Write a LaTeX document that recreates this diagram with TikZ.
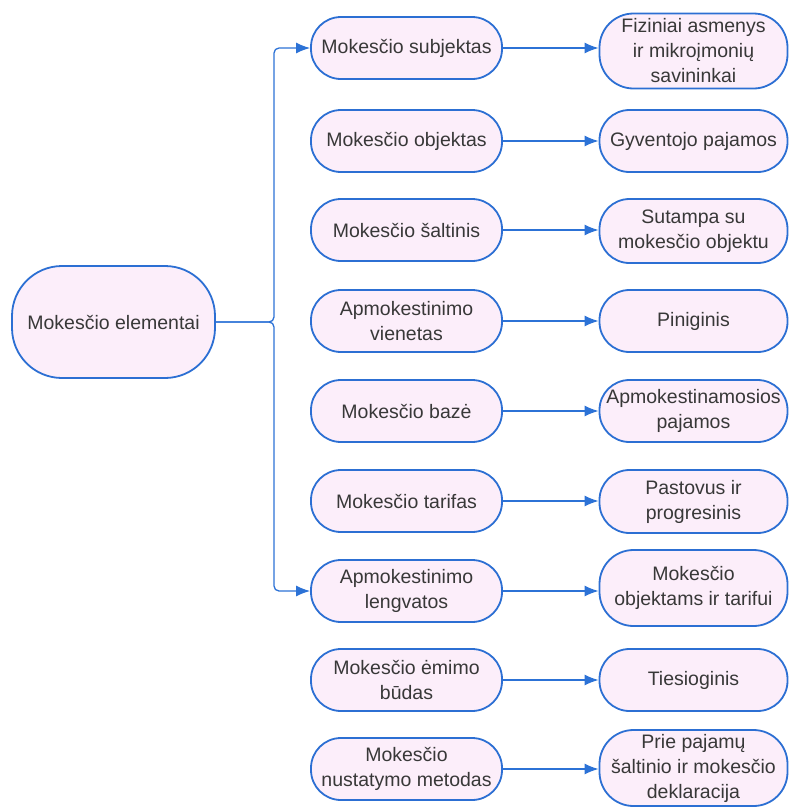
\documentclass[tikz,border=0pt]{standalone}
\usepackage{fontspec}
\setmainfont{Liberation Sans}
\usetikzlibrary{arrows.meta}
\definecolor{bord}{HTML}{2C6FD3}
\definecolor{boxfill}{HTML}{FCEEFA}
\definecolor{txt}{HTML}{383838}
\definecolor{conncol}{HTML}{2C72D6}
\tikzset{
  pill/.style={draw=bord, fill=boxfill, line width=1.8pt, rounded corners=30pt,
    align=center, inner sep=0pt, text=txt, font=\fontsize{19.5}{25}\selectfont},
  midbox/.style={pill, minimum width=191pt, minimum height=62pt},
  rightbox/.style={pill, minimum width=188pt, minimum height=62pt},
  conn/.style={draw=conncol, line width=1.3pt},
  arr/.style={conn, -{Latex[length=14pt,width=11pt]}}
}
\begin{document}
\begin{tikzpicture}[x=1pt,y=-1pt]
\useasboundingbox (0,0) rectangle (789,807);
\node[pill, rounded corners=50pt, minimum width=203pt, minimum height=112pt] (root) at (113.5,322) {Mokesčio elementai};

\node[midbox] (m1) at (406.5,48) {Mokesčio subjektas};
\node[midbox] (m2) at (406.5,141) {Mokesčio objektas};
\node[midbox] (m3) at (406.5,230) {Mokesčio šaltinis};
\node[midbox] (m4) at (406.5,321) {Apmokestinimo\\vienetas};
\node[midbox] (m5) at (406.5,411) {Mokesčio bazė};
\node[midbox] (m6) at (406.5,501) {Mokesčio tarifas};
\node[midbox] (m7) at (406.5,591) {Apmokestinimo\\lengvatos};
\node[midbox] (m8) at (406.5,680) {Mokesčio ėmimo\\būdas};
\node[midbox] (m9) at (406.5,769) {Mokesčio\\nustatymo metodas};

\node[rightbox, minimum height=75pt, rounded corners=34pt] (r1) at (693.5,51) {Fiziniai asmenys\\ir mikroįmonių\\savininkai};
\node[rightbox] (r2) at (693.5,141) {Gyventojo pajamos};
\node[rightbox, minimum height=64pt] (r3) at (693.5,231) {Sutampa su\\mokesčio objektu};
\node[rightbox] (r4) at (693.5,321) {Piniginis};
\node[rightbox] (r5) at (693.5,411) {Apmokestinamosios\\pajamos};
\node[rightbox, minimum height=63pt] (r6) at (693.5,501.5) {Pastovus ir\\progresinis};
\node[rightbox, minimum height=76pt, rounded corners=34pt] (r7) at (693.5,588) {Mokesčio\\objektams ir tarifui};
\node[rightbox] (r8) at (693.5,680) {Tiesioginis};
\node[rightbox, minimum height=76pt, rounded corners=34pt] (r9) at (693.5,768) {Prie pajamų\\šaltinio ir mokesčio\\deklaracija};

\coordinate (bx) at (274,322);
\draw[arr, rounded corners=5pt] (root.east) -- (bx) |- (m1.west);
\draw[arr, rounded corners=5pt] (root.east) -- (bx) |- (m7.west);

\foreach \i in {1,...,9} {
  \draw[arr] (m\i.east) -- (m\i.east -| r\i.west);
}
\end{tikzpicture}
\end{document}
